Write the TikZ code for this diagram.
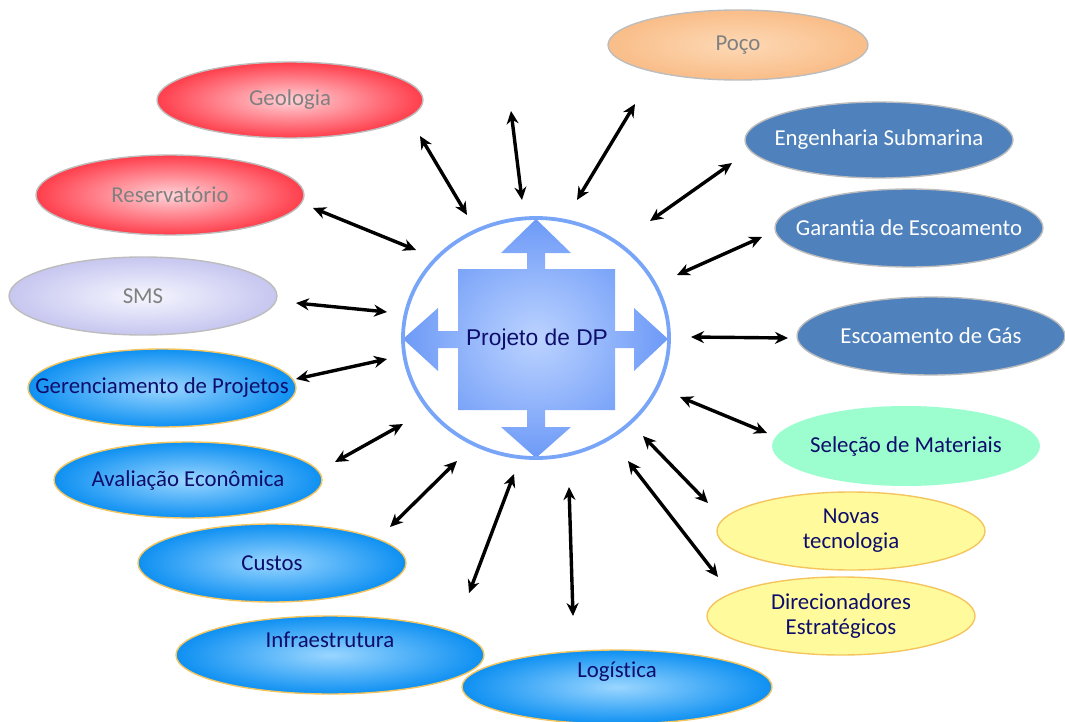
\documentclass[tikz,border=0pt]{standalone}
\usepackage{fontspec}
\setmainfont{Carlito}[Ligatures=NoCommon]
\newfontfamily\hubfont{Liberation Sans}
\usetikzlibrary{shapes.geometric,arrows.meta}

\definecolor{redin}{HTML}{FFD3D8}
\definecolor{redout}{HTML}{FF3E4C}
\definecolor{bluein}{HTML}{9AD6FF}
\definecolor{blueout}{HTML}{0E90F2}
\definecolor{lavin}{HTML}{F6F6FF}
\definecolor{lavout}{HTML}{C6C6F0}
\definecolor{peachin}{HTML}{FDD9B6}
\definecolor{peachout}{HTML}{F9BD88}
\definecolor{steel}{HTML}{4F81BD}
\definecolor{aqua}{HTML}{9CFDCF}
\definecolor{lemon}{HTML}{FFFB9D}
\definecolor{gold}{HTML}{F4C55E}
\definecolor{rim}{HTML}{BDBDBD}
\definecolor{navy}{HTML}{0D0D6B}
\definecolor{greytext}{HTML}{808080}
\definecolor{hubline}{HTML}{78A5F7}
\definecolor{hubin}{HTML}{BCD3FF}
\definecolor{hubout}{HTML}{6D9AF7}

\tikzset{
  bub/.style={ellipse, inner sep=0pt, minimum width=268pt, minimum height=78pt, line width=1.4pt},
  redbub/.style={bub, draw=rim, inner color=redin, outer color=redout},
  lavbub/.style={bub, draw=rim, inner color=lavin, outer color=lavout},
  peachbub/.style={bub, draw=rim, inner color=peachin, outer color=peachout},
  bluebub/.style={bub, draw=gold, inner color=bluein, outer color=blueout},
  steelbub/.style={bub, draw=rim, fill=steel},
  aquabub/.style={bub, fill=aqua},
  lemonbub/.style={bub, draw=gold, fill=lemon},
  lbl/.style={font=\fontsize{22.8}{25}\selectfont, align=center, inner sep=0pt},
  greylbl/.style={lbl, text=greytext},
  navylbl/.style={lbl, text=navy},
  whitelbl/.style={lbl, text=white},
  conn/.style={{Stealth[length=13pt,width=12pt]}-{Stealth[length=13pt,width=12pt]}, line width=3.4pt, black},
}

\begin{document}
\begin{tikzpicture}[x=1pt,y=-1pt]
\useasboundingbox (0,0) rectangle (1065,722);

% surrounding topics
\node[peachbub, minimum width=260pt, minimum height=70pt] (poco) at (738,45) {};
\node[greylbl] at (poco.center) {Poço};
\node[redbub, minimum width=266pt, minimum height=76pt] (geo) at (290,100) {};
\node[greylbl] at (geo.center) {Geologia};
\node[redbub, minimum height=80pt] (res) at (170,195) {};
\node[greylbl] at (res.center) {Reservatório};
\node[lavbub] (sms) at (143,296) {};
\node[greylbl] at (sms.center) {SMS};
\node[bluebub] (ger) at (162,388) {};
\node[navylbl] at (ger.center) {Gerenciamento de Projetos};
\node[bluebub, minimum height=76pt] (aval) at (188,480) {};
\node[navylbl] at (aval.center) {Avaliação Econômica};
\node[bluebub] (cust) at (272,563) {};
\node[navylbl] at (cust.center) {Custos};
\node[bluebub, minimum width=308pt] (infra) at (330,655) {};
\node[navylbl] at ([yshift=15pt]infra.center) {Infraestrutura};
\node[bluebub, minimum width=310pt, minimum height=74pt] (log) at (617,687) {};
\node[navylbl] at ([yshift=15pt]log.center) {Logística};
\node[lemonbub] (dir) at (841,616) {};
\node[navylbl] at (dir.center) {Direcionadores\\Estratégicos};
\node[lemonbub] (nov) at (851,531) {};
\node[navylbl] at (nov.center) {Novas\\tecnologia};
\node[aquabub, minimum height=80pt] (sel) at (906,446) {};
\node[navylbl] at (sel.center) {Seleção de Materiais};
\node[steelbub] (gas) at (931,336) {};
\node[whitelbl] at (gas.center) {Escoamento de Gás};
\node[steelbub] (gar) at (909,228) {};
\node[whitelbl] at (gar.center) {Garantia de Escoamento};
\node[steelbub, minimum height=76pt] (eng) at (879,140) {};
\node[whitelbl] at (eng.center) {Engenharia Submarina};

% central hub: four-way arrow block inside a ring
\shade[inner color=hubin, outer color=hubout]
  (458,269) -- (527,269) -- (527,253) -- (501,253) -- (536,219) -- (571,253)
  -- (545,253) -- (545,269) -- (615,269) -- (615,331) -- (634,331) -- (634,308)
  -- (668,339) -- (634,371) -- (634,348) -- (615,348) -- (615,410) -- (545,410)
  -- (545,427) -- (571,427) -- (536,458) -- (501,427) -- (527,427) -- (527,410)
  -- (458,410) -- (458,348) -- (438,348) -- (438,371) -- (403,339) -- (438,308)
  -- (438,331) -- (458,331) -- cycle;
\node[ellipse, draw=hubline, line width=3.8pt, minimum width=266pt, minimum height=240pt, inner sep=0pt] (hub) at (536,338) {};
\node[font=\hubfont\fontsize{22.8}{26}\selectfont, text=navy, inner sep=0pt] (hubtxt) at (537,340) {Projeto de DP};

% connector ends
\coordinate (a1) at (420,136);  \coordinate (b1) at (467,215);
\coordinate (a2) at (511,111);  \coordinate (b2) at (522,200);
\coordinate (a3) at (635,104);  \coordinate (b3) at (577,200);
\coordinate (a4) at (732,163);  \coordinate (b4) at (650,221);
\coordinate (a5) at (762,237);  \coordinate (b5) at (677,275);
\coordinate (a6) at (788,338);  \coordinate (b6) at (691,337);
\coordinate (a7) at (767,433);  \coordinate (b7) at (680,397);
\coordinate (a8) at (708,503);  \coordinate (b8) at (643,436);
\coordinate (a9) at (718,577);  \coordinate (b9) at (628,461);
\coordinate (a10) at (573,616); \coordinate (b10) at (569,487);
\coordinate (a11) at (469,593); \coordinate (b11) at (514,474);
\coordinate (a12) at (390,527); \coordinate (b12) at (457,461);
\coordinate (a13) at (335,462); \coordinate (b13) at (403,424);
\coordinate (a14) at (296,379); \coordinate (b14) at (387,359);
\coordinate (a15) at (296,303); \coordinate (b15) at (387,312);
\coordinate (a16) at (313,208); \coordinate (b16) at (416,250);

\foreach \i in {1,...,16} \draw[conn] (a\i) -- (b\i);
\end{tikzpicture}
\end{document}
